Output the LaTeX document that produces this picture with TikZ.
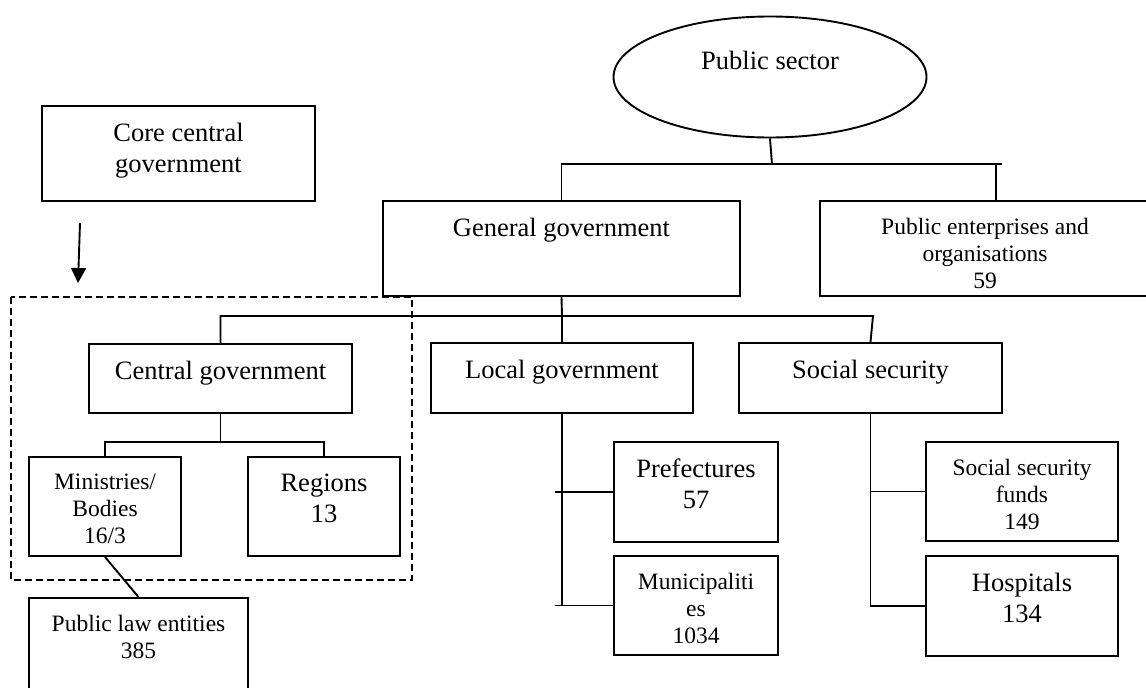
\documentclass[tikz,border=0pt]{standalone}
\usepackage{fontspec}
\setmainfont{Liberation Serif}
\usetikzlibrary{arrows.meta, shapes.geometric}
\tikzset{
  org box/.style={draw, inner sep=0pt},
  big text/.style={font=\fontsize{26.5}{31}\selectfont, align=center, inner sep=0pt, anchor=north, yshift=-17pt},
  small text/.style={font=\fontsize{23.5}{27}\selectfont, align=center, inner sep=0pt, anchor=north, yshift=-17pt},
  top big/.style={label={[big text]north:{#1}}},
  top small/.style={label={[small text]north:{#1}}},
  core frame/.style={dash pattern=on 7pt off 4pt, line width=1.5pt}
}

\begin{document}
\begin{tikzpicture}[x=1pt, y=-1pt, line width=1.9pt]

\useasboundingbox (0,0) rectangle (1146,688);
\clip (0,0) rectangle (1146,688);

% Draw the public sector ellipse
\node[draw, ellipse, minimum width=313pt, minimum height=121pt, inner sep=0pt,
  label={[big text, yshift=-18pt]north:Public sector}] (ps) at (770,77) {};

% Draw the core central government box and its arrow
\node[org box, minimum width=273pt, minimum height=95pt, top big={Core central\\government}] (core) at (178.5,153.5) {};
\coordinate (arr top) at (80,223);
\coordinate (arr tip) at (78,283);
\draw[-{Triangle[width=15pt,length=15pt]}] (arr top) -- (arr tip);

% Draw the second level boxes
\node[org box, minimum width=357pt, minimum height=95pt, top big={General government}] (gg) at (561.5,248.5) {};
\node[org box, minimum width=330pt, minimum height=95pt, top small={Public enterprises and\\organisations\\59}] (pe) at (985,248.5) {};

% Draw the third level boxes
\node[org box, minimum width=263pt, minimum height=69pt, top big={Central government}] (cg) at (220.5,378.5) {};
\node[org box, minimum width=262pt, minimum height=70pt, top big={Local government}] (lg) at (562,378) {};
\node[org box, minimum width=263pt, minimum height=70pt, top big={Social security}] (ss) at (870.5,378) {};

% Draw the boxes below central government
\node[org box, minimum width=152pt, minimum height=99pt, top small={Ministries/\\Bodies\\16/3}] (min) at (105,506.5) {};
\node[org box, minimum width=152pt, minimum height=99pt, top big={Regions\\13}] (reg) at (324,506.5) {};
\node[org box, minimum width=219pt, minimum height=102pt, top small={Public law entities\\385}] (ple) at (138.5,649) {};

% Draw the boxes below local government
\node[org box, minimum width=164pt, minimum height=100pt, top big={Prefectures\\57}] (pref) at (696,492) {};
\node[org box, minimum width=164pt, minimum height=99pt, top small={Municipaliti\\es\\1034}] (mun) at (696,605.5) {};

% Draw the boxes below social security
\node[org box, minimum width=192pt, minimum height=99pt, top small={Social security\\funds\\149}] (ssf) at (1022,491.5) {};
\node[org box, minimum width=192pt, minimum height=100pt, top big={Hospitals\\134}] (hosp) at (1022,606) {};

% Draw the dashed core central government frame
\draw[core frame] (11,297) rectangle (412,580);

% Connect the public sector to its parts
\coordinate (ps bus) at (772,164);
\draw (ps.south) -- (ps bus);
\draw (gg.north) |- ([xshift=17pt]pe.north |- ps bus);
\draw ([xshift=11pt]pe.north |- ps bus) -- ([xshift=11pt]pe.north);

% Connect the general government to its parts
\coordinate (gg bus) at (562,316);
\draw (gg.south) -- (gg bus);
\draw (cg.north) |- ([xshift=2.5pt]ss.north |- gg bus) -- (ss.north);
\draw (gg bus) -- (lg.north);

% Connect the central government to its parts
\coordinate (cg bus) at (220.5,442);
\draw (cg.south) -- (cg bus);
\draw (min.north) |- (cg bus) -| (reg.north);
\draw (min.south) -- (ple.north);

% Connect the local government to its parts
\draw (lg.south) -- (lg.south |- mun.west);
\draw ([xshift=-7pt]lg.south |- pref.west) -- (pref.west);
\draw ([xshift=-7pt]lg.south |- mun.west) -- (mun.west);

% Connect the social security to its parts
\draw (ss.south) |- (hosp.west);
\draw (ss.south |- ssf.west) -- (ssf.west);

\end{tikzpicture}
\end{document}
